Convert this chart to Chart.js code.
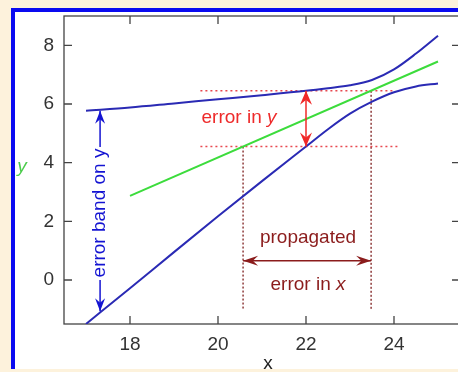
<!DOCTYPE html>
<html><head><meta charset="utf-8">
<script src="https://cdn.jsdelivr.net/npm/chart.js@4"></script>
<style>
html,body{margin:0;padding:0;width:458px;height:372px;overflow:hidden;background:#fdf2dc;}
#frame{position:absolute;left:11px;top:8px;width:460px;height:357px;background:#fff;border-left:4px solid #0a0af0;border-top:4px solid #0a0af0;}
#c{position:absolute;left:0;top:0;}
</style></head><body>
<div id="frame"></div>
<canvas id="c" width="470" height="372"></canvas>
<script>
// ---- data ----
const xTicks = [18, 20, 22, 24];
const yTicks = [0, 2, 4, 6, 8];
const upperX = [17, 18, 19, 20, 21, 22, 22.5, 23, 23.5, 24, 24.5, 25];
const upperY = [5.77, 5.88, 6.02, 6.16, 6.3, 6.45, 6.54, 6.64, 6.82, 7.18, 7.72, 8.33];
const lowerX = [17, 18, 19, 20, 21, 22, 22.5, 23, 23.5, 24, 24.5, 25];
const lowerY = [-1.5, -0.28, 0.95, 2.17, 3.37, 4.55, 5.14, 5.67, 6.08, 6.4, 6.6, 6.7];
const fitX = [18, 25];
const fitY = [2.87, 7.45];
const yErrLevels = [6.45, 4.55];
const yErrStartX = [19.6, 19.6];
const yErrEndX = [24.0, 24.1];
const errYAtX = 22;
const propX = [20.57, 23.48];
const propTopY = [4.55, 6.45];
const propBottomY = -1.0;
const propArrowY = 0.66;
const bandArrowX = 17.32;
const bandArrowTips = [5.8, -1.1];

const FONT = "'Liberation Sans', Arial, Helvetica, sans-serif";
const pts = (xs, ys) => xs.map((x, i) => ({x: x, y: ys[i]}));

const datasets = [
  {data: pts(upperX, upperY), borderColor: '#2a2ab4', borderWidth: 2, cubicInterpolationMode: 'monotone'},
  {data: pts(lowerX, lowerY), borderColor: '#2a2ab4', borderWidth: 2, cubicInterpolationMode: 'monotone'},
  {data: pts(fitX, fitY), borderColor: '#3cdc3c', borderWidth: 2},
];
yErrLevels.forEach((lv, i) => datasets.push({
  data: [{x: yErrStartX[i], y: lv}, {x: yErrEndX[i], y: lv}],
  borderColor: '#e8484f', borderWidth: 1.5, borderDash: [2, 3]
}));
propX.forEach((px, i) => datasets.push({
  data: [{x: px, y: propTopY[i]}, {x: px, y: propBottomY}],
  borderColor: '#8e3a3a', borderWidth: 1.5, borderDash: [2, 2]
}));
datasets.forEach(d => { d.pointRadius = 0; d.fill = false; });

function head(ctx, tx, ty, dx, dy, len, half) {
  const n = Math.hypot(dx, dy); dx /= n; dy /= n;
  const px = -dy, py = dx;
  ctx.beginPath();
  ctx.moveTo(tx, ty);
  ctx.lineTo(tx - dx * len + px * half, ty - dy * len + py * half);
  ctx.lineTo(tx - dx * len * 0.65, ty - dy * len * 0.65);
  ctx.lineTo(tx - dx * len - px * half, ty - dy * len - py * half);
  ctx.closePath();
  ctx.fill();
}
function arrow(ctx, x1, y1, x2, y2, color, both, len, half) {
  ctx.save();
  ctx.strokeStyle = color; ctx.fillStyle = color; ctx.lineWidth = 1.5;
  ctx.beginPath(); ctx.moveTo(x1, y1); ctx.lineTo(x2, y2); ctx.stroke();
  head(ctx, x2, y2, x2 - x1, y2 - y1, len, half);
  if (both) head(ctx, x1, y1, x1 - x2, y1 - y2, len, half);
  ctx.restore();
}

const deco = {
  id: 'deco',
  beforeDatasetsDraw(chart) {
    const {ctx, chartArea: a, scales: {x, y}} = chart;
    ctx.save();
    ctx.strokeStyle = '#444'; ctx.lineWidth = 1.3;
    ctx.strokeRect(a.left, a.top, a.right - a.left, a.bottom - a.top);
    ctx.beginPath();
    xTicks.forEach(v => { const p = x.getPixelForValue(v);
      ctx.moveTo(p, a.bottom); ctx.lineTo(p, a.bottom - 8);
      ctx.moveTo(p, a.top); ctx.lineTo(p, a.top + 8); });
    yTicks.forEach(v => { const p = y.getPixelForValue(v);
      ctx.moveTo(a.left, p); ctx.lineTo(a.left + 8, p);
      ctx.moveTo(a.right, p); ctx.lineTo(a.right - 8, p); });
    ctx.stroke();
    ctx.restore();
  },
  afterDatasetsDraw(chart) {
    const {ctx, scales: {x, y}} = chart;
    ctx.save();
    const ex = x.getPixelForValue(errYAtX);
    arrow(ctx, ex, y.getPixelForValue(yErrLevels[1]), ex, y.getPixelForValue(yErrLevels[0]), '#f02828', true, 14, 6);
    const ay = y.getPixelForValue(propArrowY);
    arrow(ctx, x.getPixelForValue(propX[0]), ay, x.getPixelForValue(propX[1]), ay, '#8b1c1c', true, 15, 5);
    const bx = x.getPixelForValue(bandArrowX);
    arrow(ctx, bx, 147, bx, y.getPixelForValue(bandArrowTips[0]) + 1, '#1414d2', false, 13, 5);
    arrow(ctx, bx, 280, bx, y.getPixelForValue(bandArrowTips[1]) - 1, '#1414d2', false, 13, 5);

    ctx.textBaseline = 'middle';
    ctx.font = '19px ' + FONT;
    ctx.fillStyle = '#ee2a2a';
    const eyText = 'error in ', eyW = ctx.measureText(eyText).width;
    ctx.font = 'italic 19px ' + FONT;
    const yW = ctx.measureText('y').width;
    let sx = 239 - (eyW + yW) / 2;
    ctx.textAlign = 'left';
    ctx.font = '19px ' + FONT; ctx.fillText(eyText, sx, 118);
    ctx.font = 'italic 19px ' + FONT; ctx.fillText('y', sx + eyW, 118);

    ctx.fillStyle = '#8b1c1c';
    ctx.font = '19px ' + FONT; ctx.textAlign = 'center';
    ctx.fillText('propagated', 308, 238);
    const exText = 'error in ', exW = ctx.measureText(exText).width;
    ctx.font = 'italic 19px ' + FONT;
    const xW = ctx.measureText('x').width;
    sx = 308 - (exW + xW) / 2;
    ctx.textAlign = 'left';
    ctx.font = '19px ' + FONT; ctx.fillText(exText, sx, 285);
    ctx.font = 'italic 19px ' + FONT; ctx.fillText('x', sx + exW, 285);

    ctx.save();
    ctx.translate(bx, 213); ctx.rotate(-Math.PI / 2);
    ctx.fillStyle = '#1414d2'; ctx.textAlign = 'center'; ctx.textBaseline = 'middle';
    ctx.font = '19px ' + FONT;
    ctx.fillText('error band on y', 0, 0);
    ctx.restore();

    ctx.textAlign = 'center';
    ctx.fillStyle = '#222'; ctx.font = '19px ' + FONT;
    ctx.fillText('x', 268, 364);
    ctx.fillStyle = '#4ccc4c'; ctx.font = 'italic 19px ' + FONT;
    ctx.fillText('y', 22, 167);
    ctx.restore();
  }
};

const noPad = s => { s.paddingTop = 0; s.paddingBottom = 0; s.paddingLeft = 0; s.paddingRight = 0; };

new Chart(document.getElementById('c'), {
  type: 'line',
  data: {datasets: datasets},
  options: {
    responsive: false, animation: false,
    layout: {padding: {left: 0, top: 16, right: 10, bottom: 0}},
    plugins: {legend: {display: false}, tooltip: {enabled: false}},
    scales: {
      x: {type: 'linear', min: 16.5, max: 25.5,
        afterBuildTicks: s => { s.ticks = xTicks.map(v => ({value: v})); },
        afterFit: s => { s.height = 48; noPad(s); },
        grid: {display: false, drawTicks: false}, border: {display: false},
        ticks: {color: '#333', padding: 9, font: {size: 19, family: FONT}}},
      y: {type: 'linear', min: -1.5, max: 9,
        afterBuildTicks: s => { s.ticks = yTicks.map(v => ({value: v})); },
        afterFit: s => { s.width = 64; noPad(s); },
        grid: {display: false, drawTicks: false}, border: {display: false},
        ticks: {color: '#333', padding: 10, font: {size: 19, family: FONT}}}
    }
  },
  plugins: [deco]
});
</script></body></html>
